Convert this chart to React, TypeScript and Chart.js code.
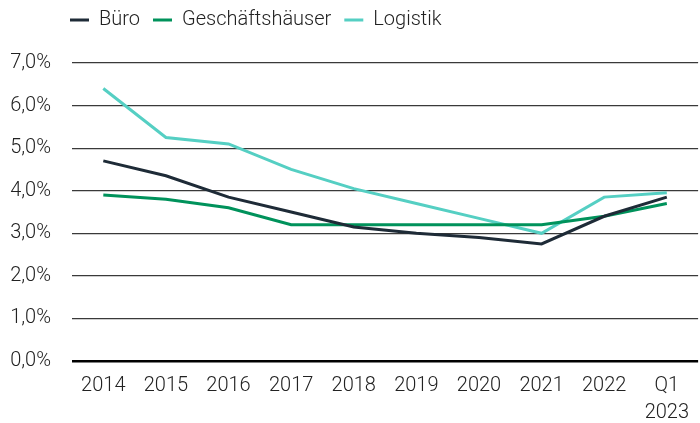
import React, { useEffect, useRef } from "react";
import { Chart, registerables } from "chart.js";

Chart.register(...registerables);

const categories: (string | string[])[] = ["2014", "2015", "2016", "2017", "2018", "2019", "2020", "2021", "2022", ["Q1", "2023"]];
const bueroValues = [4.7, 4.35, 3.85, 3.5, 3.15, 3.0, 2.9, 2.75, 3.4, 3.85];
const geschaeftsValues = [3.9, 3.8, 3.6, 3.2, 3.2, 3.2, 3.2, 3.2, 3.4, 3.7];
const logistikValues = [6.4, 5.25, 5.1, 4.5, 4.05, 3.7, 3.35, 3.0, 3.85, 3.95];
const seriesNames = ["Büro", "Geschäftshäuser", "Logistik"];
const seriesColors = ["#1e2b37", "#00925b", "#55cfc3"];
const yTicks = [0, 1, 2, 3, 4, 5, 6, 7];

const FONT = "Roboto, 'Open Sans', sans-serif";

const legendShift = {
  id: "legendShift",
  afterLayout(chart: any) {
    const lg = chart.legend;
    if (!lg) return;
    const h = lg.bottom - lg.top;
    const w = lg.right - lg.left;
    lg.top = -3;
    lg.bottom = lg.top + h;
    lg.left = 57;
    lg.right = lg.left + w;
  },
};

export default function App() {
  const ref = useRef<HTMLCanvasElement | null>(null);
  useEffect(() => {
    if (!ref.current) return;
    const values = [bueroValues, geschaeftsValues, logistikValues];
    const chart = new Chart(ref.current, {
      type: "line",
      data: {
        labels: categories,
        datasets: values.map((v, i) => ({
          label: seriesNames[i],
          data: v,
          borderColor: seriesColors[i],
          backgroundColor: seriesColors[i],
          borderWidth: 3,
          pointRadius: 0,
          pointStyle: "line",
          tension: 0,
        })),
      },
      options: {
        animation: false,
        responsive: false,
        maintainAspectRatio: false,
        layout: { padding: { top: 20, right: 0, left: 0, bottom: 0 } },
        plugins: {
          tooltip: { enabled: false },
          legend: {
            position: "top",
            align: "start",
            labels: {
              usePointStyle: true,
              pointStyle: "line",
              pointStyleWidth: 19,
              boxHeight: 12,
              padding: 13,
              color: "#222",
              font: { family: FONT, size: 20, weight: "300" },
            },
          },
        },
        scales: {
          x: {
            type: "category",
            offset: true,
            grid: { display: false, drawTicks: false },
            border: { display: false },
            ticks: {
              color: "#222",
              font: { family: FONT, size: 20, weight: "300", lineHeight: 1.35 },
              maxRotation: 0,
              autoSkip: false,
              padding: 11,
            },
            afterFit: (s: any) => { s.height = 62; },
          },
          y: {
            min: 0,
            max: 7,
            afterBuildTicks: (s: any) => { s.ticks = yTicks.map((v) => ({ value: v })); },
            border: { display: false },
            grid: {
              drawTicks: false,
              color: (c: any) => (c.tick && c.tick.value === 0 ? "#000" : "#3a3a3a"),
              lineWidth: (c: any) => (c.tick && c.tick.value === 0 ? 2.5 : 1.2),
            },
            ticks: {
              color: "#222",
              font: { family: FONT, size: 20, weight: "300" },
              padding: 21,
              callback: (v: any) => Number(v).toFixed(1).replace(".", ",") + "%",
            },
            afterFit: (s: any) => { s.width = 72; },
          },
        },
      },
      plugins: [legendShift],
    });
    return () => chart.destroy();
  }, []);
  return (
    <div style={{ position: "fixed", left: 0, top: 0, width: 700, height: 423, background: "#fff" }}>
      <canvas ref={ref} width={700} height={423} style={{ width: 700, height: 423 }} />
    </div>
  );
}
